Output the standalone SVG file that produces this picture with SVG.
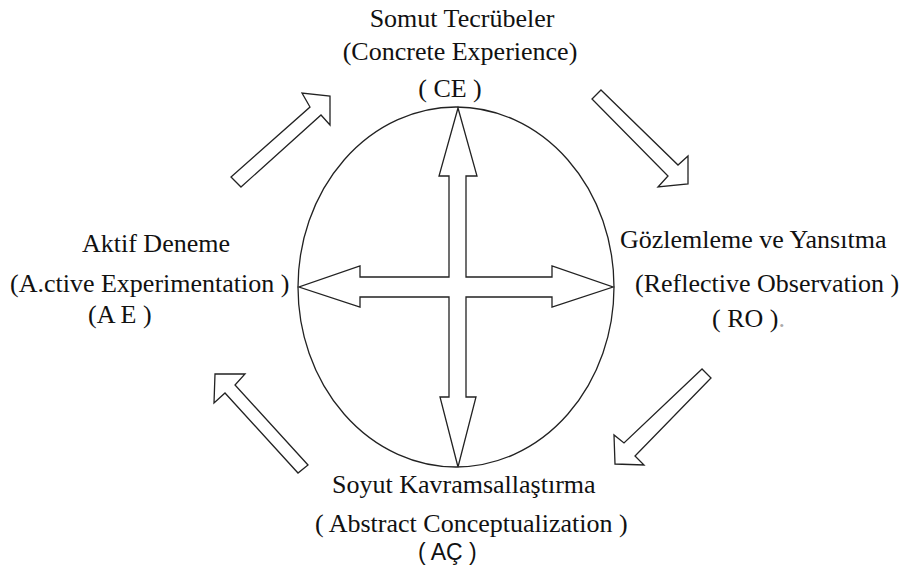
<svg xmlns="http://www.w3.org/2000/svg" width="904" height="571" viewBox="0 0 904 571">
<style>
.sh{fill:#fff;stroke:#222;stroke-width:1.3;stroke-linejoin:miter}
.t{font-family:"Liberation Serif","Times New Roman",serif;font-size:26px;fill:#111}
.s{font-family:"Liberation Sans",Arial,sans-serif;font-size:23px;fill:#111}
</style>
<rect width="904" height="571" fill="#fff"/>
<g id="cycle">
<ellipse cx="456" cy="287" rx="158" ry="180" fill="none" stroke="#222" stroke-width="1.3"/>
</g>
<g id="connectors">
<polygon id="cross" class="sh" points="458,108 477,176 466,176 466,277 552,277 552,266 613,287 552,307 552,297 466,297 466,397 476,397 458,467 440,397 449,397 449,297 360,297 360,307 299,287 360,266 360,277 449,277 449,176 439,176"/>
<polygon id="arrow-ne" class="sh" points="241,187 321,115 330,125 330,96 302,93 310,107 231,177"/>
<polygon id="arrow-se" class="sh" points="601,90 678,165 688,156 688,184 658,187 668,176 592,99"/>
<polygon id="arrow-sw" class="sh" points="702,369 624,443 614,435 615,464 644,465 635,456 711,378"/>
<polygon id="arrow-nw" class="sh" points="215,374 245,374 235,385 308,465 298,473 225,393 214,403"/>
</g>
<g id="node-ce" class="t">
<text x="462" y="27" text-anchor="middle">Somut Tecrübeler</text>
<text x="460" y="60" text-anchor="middle">(Concrete Experience)</text>
<text x="450" y="97" text-anchor="middle">( CE )</text>
</g>
<g id="node-ae" class="t">
<text x="156" y="252" text-anchor="middle">Aktif Deneme</text>
<text x="10" y="292">(A.ctive Experimentation )</text>
<text x="88" y="323">(A E )</text>
</g>
<g id="node-ro" class="t">
<text x="620" y="248">Gözlemleme ve Yansıtma</text>
<text x="635" y="292">(Reflective Observation )</text>
<text x="712" y="327">( RO )<tspan fill="#aaa">.</tspan></text>
</g>
<g id="node-ac" class="t">
<text x="332" y="493">Soyut Kavramsallaştırma</text>
<text x="315" y="532">( Abstract Conceptualization )</text>
<text class="s" x="418" y="560">( AÇ )</text>
</g>
</svg>
